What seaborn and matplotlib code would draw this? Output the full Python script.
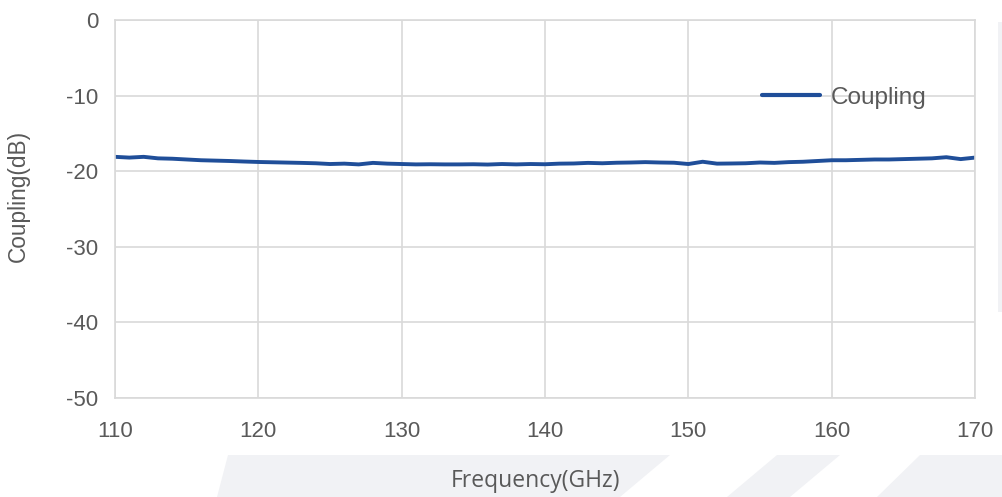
import numpy as np
import matplotlib
matplotlib.use('Agg')
import matplotlib.pyplot as plt
from matplotlib.patches import Polygon, Rectangle
import pandas as pd
import seaborn as sns

freq_ghz = list(range(110, 171))
coupling_db = [
    -18.10, -18.20, -18.10, -18.30, -18.35, -18.45, -18.55, -18.60, -18.65, -18.72,
    -18.78, -18.82, -18.86, -18.90, -18.95, -19.05, -19.00, -19.10, -18.90, -19.00,
    -19.05, -19.10, -19.08, -19.10, -19.10, -19.08, -19.12, -19.05, -19.10, -19.05,
    -19.08, -19.00, -18.98, -18.90, -18.95, -18.88, -18.85, -18.80, -18.85, -18.88,
    -19.05, -18.75, -19.00, -18.98, -18.95, -18.85, -18.90, -18.80, -18.75, -18.65,
    -18.55, -18.55, -18.50, -18.45, -18.45, -18.40, -18.35, -18.30, -18.15, -18.40,
    -18.20,
]
series_name = 'Coupling'

df = pd.DataFrame({'freq': freq_ghz, 'coupling': coupling_db, 'series': series_name})

sns.set_style('white')
plt.rcParams['font.family'] = ['Liberation Sans', 'DejaVu Sans']
plt.rcParams['axes.unicode_minus'] = False

W, H = 1003, 497
fig = plt.figure(figsize=(W / 100, H / 100), dpi=100)

# faint watermark shapes in the background
grey = '#f1f2f5'
def px(x, y):
    return (x / W, 1 - y / H)
shapes = [
    [(228, 455), (670, 455), (620, 497), (217, 497)],
    [(777, 455), (840, 455), (790, 497), (727, 497)],
    [(920, 455), (1003, 455), (1003, 497), (877, 497)],
]
for pts in shapes:
    fig.patches.append(Polygon([px(*p) for p in pts], closed=True, transform=fig.transFigure,
                               facecolor=grey, edgecolor='none', zorder=0))
fig.patches.append(Rectangle(px(998, 312), 5 / W, 290 / H, transform=fig.transFigure,
                             facecolor=grey, edgecolor='none', zorder=0))

ax = fig.add_axes([115 / W, (H - 398) / H, 860 / W, 378 / H])
ax.set_facecolor('none')

sns.lineplot(data=df, x='freq', y='coupling', hue='series', palette=['#1f4e99'],
             linewidth=2.8, ax=ax)

ax.set_xlim(110, 170)
ax.set_ylim(-50, 0)
ax.set_xticks(range(110, 171, 10))
ax.set_yticks(range(-50, 1, 10))
ax.grid(True, color='#d9d9d9', linewidth=1.2)
for s in ax.spines.values():
    s.set_color('#d9d9d9')
    s.set_linewidth(1.2)
ax.tick_params(axis='both', length=0, labelsize=16, colors='#595959')
ax.tick_params(axis='x', pad=16.5)
ax.tick_params(axis='y', pad=12)
ax.set_xlabel('')
ax.set_ylabel('')

fig.text(536 / W, 1 - 481 / H, 'Frequency(GHz)', ha='center', va='center',
         fontsize=16.5, color='#595959', family=['Open Sans', 'DejaVu Sans'])
fig.text(18 / W, 1 - 196 / H, 'Coupling(dB)', ha='center', va='center', rotation=90,
         fontsize=16.3, color='#595959')

leg = ax.legend(loc='center left', bbox_to_anchor=(0.752, 0.794), frameon=False,
                fontsize=17.5, handlelength=2.4, handletextpad=0.45,
                borderpad=0, borderaxespad=0)
for t in leg.get_texts():
    t.set_color('#595959')
for h in leg.get_lines():
    h.set_linewidth(3)

fig.savefig('out.png', dpi=100)
